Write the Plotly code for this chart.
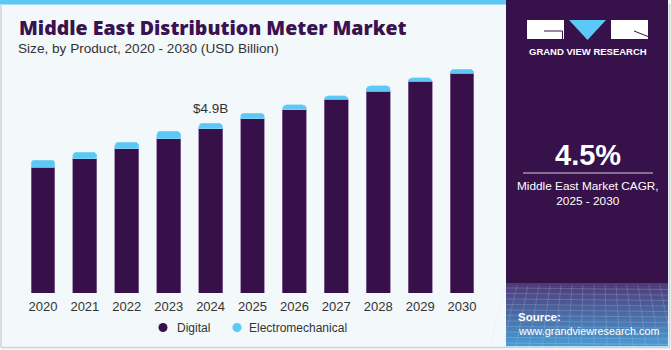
import plotly.graph_objects as go

years = ["2020", "2021", "2022", "2023", "2024", "2025", "2026", "2027", "2028", "2029", "2030"]
total = [3.84, 4.07, 4.36, 4.67, 4.90, 5.19, 5.43, 5.69, 5.98, 6.21, 6.46]
electromechanical = [0.21, 0.19, 0.19, 0.21, 0.16, 0.16, 0.14, 0.10, 0.15, 0.10, 0.12]
digital = [round(t - e, 2) for t, e in zip(total, electromechanical)]
series_names = ["Digital", "Electromechanical"]
highlight_year = "2024"
highlight_label = "$4.9B"

DIG = "#37104a"
ELE = "#5bc8f5"
BG = "#f3f8fb"
W, H = 671, 350
L, R, T, B = 22, 188, 60, 57
PW, PH = W - L - R, H - T - B
FONT = "Liberation Sans, Arial, sans-serif"


def fx(px):
    return (px - L) / PW


def fy(py):
    return (H - B - py) / PH


fig = go.Figure()
fig.add_bar(x=years, y=digital, name=series_names[0],
            marker=dict(color=DIG, line=dict(color="rgba(140,110,160,0.7)", width=1)), showlegend=False)
fig.add_bar(x=years, y=electromechanical, name=series_names[1],
            marker=dict(color=ELE, line=dict(color="rgba(150,215,245,0.6)", width=1)), showlegend=False)

idx = years.index(highlight_year)
# category axis: position by category index (numeric-looking strings would be read as numbers)
fig.add_annotation(x=idx, y=total[idx], xref="x", yref="y", text=highlight_label, showarrow=False,
                   yanchor="bottom", yshift=5, font=dict(size=13.5, color="#333333", family=FONT))

shapes = []
# top cyan strip
shapes.append(dict(type="rect", xref="paper", yref="paper", x0=fx(0), x1=fx(508), y0=fy(0), y1=fy(4.5),
                   fillcolor="#5bc8f5", line=dict(width=0), layer="below"))
# left panel border
shapes.append(dict(type="line", xref="paper", yref="paper", x0=fx(1), x1=fx(1), y0=fy(4), y1=fy(347),
                   line=dict(color="#cfd2d6", width=1.5)))
shapes.append(dict(type="line", xref="paper", yref="paper", x0=fx(1), x1=fx(506), y0=fy(347.5), y1=fy(347.5),
                   line=dict(color="#cfd2d6", width=1.5)))
# right panel
shapes.append(dict(type="rect", xref="paper", yref="paper", x0=fx(506), x1=fx(668), y0=fy(0), y1=fy(346),
                   fillcolor="#37114a", line=dict(width=0)))
shapes.append(dict(type="line", xref="paper", yref="paper", x0=fx(669.5), x1=fx(669.5), y0=fy(4), y1=fy(347),
                   line=dict(color="#cfd2d6", width=1.5)))
shapes.append(dict(type="line", xref="paper", yref="paper", x0=fx(506), x1=fx(670), y0=fy(347.5), y1=fy(347.5),
                   line=dict(color="#cfd2d6", width=1.5)))
# bottom gradient of right panel
c0 = (78, 60, 120)
c1 = (72, 155, 210)
steps = 21
top_g, bot_g = 283, 346
for i in range(steps):
    y0p = top_g + i * ((bot_g - top_g) / steps)
    y1p = top_g + (i + 1) * ((bot_g - top_g) / steps) + 0.3
    t = i / (steps - 1)
    col = tuple(int(c0[k] + (c1[k] - c0[k]) * t) for k in range(3))
    shapes.append(dict(type="rect", xref="paper", yref="paper", x0=fx(506), x1=fx(668), y0=fy(y0p), y1=fy(y1p),
                       fillcolor=f"rgb{col}", line=dict(width=0)))
# faint grid lines in gradient
for k in range(11):
    yy = 288 + k * 5.5
    shapes.append(dict(type="line", xref="paper", yref="paper", x0=fx(506), x1=fx(668), y0=fy(yy), y1=fy(yy + 1.5),
                       line=dict(color="rgba(210,215,240,0.22)", width=1)))
for k in range(16):
    xx = 506 + k * 11
    shapes.append(dict(type="line", xref="paper", yref="paper", x0=fx(xx), x1=fx(xx + (k - 8) * 2),
                       y0=fy(285), y1=fy(346), line=dict(color="rgba(210,215,240,0.2)", width=1)))
# logo
shapes.append(dict(type="rect", xref="paper", yref="paper", x0=fx(527), x1=fx(564), y0=fy(20), y1=fy(39),
                   fillcolor="white", line=dict(width=0)))
shapes.append(dict(type="rect", xref="paper", yref="paper", x0=fx(611), x1=fx(648), y0=fy(20), y1=fy(39),
                   fillcolor="white", line=dict(width=0)))
shapes.append(dict(type="path", xref="paper", yref="paper",
                   path=f"M {fx(569)} {fy(20)} L {fx(606)} {fy(20)} L {fx(587.5)} {fy(40)} Z",
                   fillcolor="#5bc8f5", line=dict(width=0)))
shapes.append(dict(type="path", xref="paper", yref="paper",
                   path=f"M {fx(544)} {fy(31)} L {fx(562.5)} {fy(31)} L {fx(562.5)} {fy(39)}",
                   line=dict(color="#37114a", width=1)))
shapes.append(dict(type="line", xref="paper", yref="paper", x0=fx(634), x1=fx(648), y0=fy(31), y1=fy(36.5),
                   line=dict(color="#37114a", width=1)))
# CAGR divider
shapes.append(dict(type="line", xref="paper", yref="paper", x0=fx(523), x1=fx(653), y0=fy(173), y1=fy(173),
                   line=dict(color="rgba(255,255,255,0.8)", width=1)))
# legend dots
legend_dot_x = [163, 237]
legend_text_x = [175, 247]
for name, col, dx in zip(series_names, [DIG, ELE], legend_dot_x):
    shapes.append(dict(type="circle", xref="paper", yref="paper", x0=fx(dx - 4.5), x1=fx(dx + 4.5),
                       y0=fy(327.5 - 4.5), y1=fy(327.5 + 4.5), fillcolor=col, line=dict(width=0)))

ann = [
    dict(text="Middle East Distribution Meter Market", x=fx(16.5), y=fy(28), xanchor="left", yanchor="middle",
         font=dict(size=19.5, color="#3b1250", family="Open Sans, " + FONT, weight=800)),
    dict(text="Size, by Product, 2020 - 2030 (USD Billion)", x=fx(16), y=fy(48), xanchor="left", yanchor="middle",
         font=dict(size=13.6, color="#333333", family=FONT)),
    dict(text="<b>GRAND VIEW RESEARCH</b>", x=fx(587.5), y=fy(51), xanchor="center", yanchor="middle",
         font=dict(size=9.5, color="white", family=FONT)),
    dict(text="<b>4.5%</b>", x=fx(588), y=fy(155), xanchor="center", yanchor="middle",
         font=dict(size=29, color="white", family=FONT)),
    dict(text="Middle East Market CAGR,<br>2025 - 2030", x=fx(588), y=fy(193.5), xanchor="center", yanchor="middle",
         font=dict(size=11.8, color="white", family=FONT)),
    dict(text="<b>Source:</b>", x=fx(516), y=fy(316.5), xanchor="left", yanchor="middle",
         font=dict(size=11.5, color="white", family=FONT)),
    dict(text="www.grandviewresearch.com", x=fx(516), y=fy(330.5), xanchor="left", yanchor="middle",
         font=dict(size=10.8, color="white", family=FONT)),
]
for name, tx in zip(series_names, legend_text_x):
    ann.append(dict(text=name, x=fx(tx), y=fy(327.5), xanchor="left", yanchor="middle",
                    font=dict(size=12, color="#333333", family=FONT)))
for a in ann:
    a.update(xref="paper", yref="paper", showarrow=False)
    fig.add_annotation(**a)

fig.update_layout(
    width=W, height=H,
    margin=dict(l=L, r=R, t=T, b=B),
    paper_bgcolor=BG, plot_bgcolor=BG,
    barmode="stack", bargap=0.43, barcornerradius=4,
    shapes=shapes, showlegend=False,
    font=dict(family=FONT, color="#333333"),
    xaxis=dict(type="category", showgrid=False, showline=False, zeroline=False, ticks="",
               tickfont=dict(size=13, color="#333333"), ticklabelstandoff=4, range=[-0.5, 10.5]),
    yaxis=dict(showticklabels=False, showgrid=False, zeroline=False, showline=False, ticks="",
               range=[0, PH * 4.9 / 169.7]),
)

fig.write_html("out.html")
